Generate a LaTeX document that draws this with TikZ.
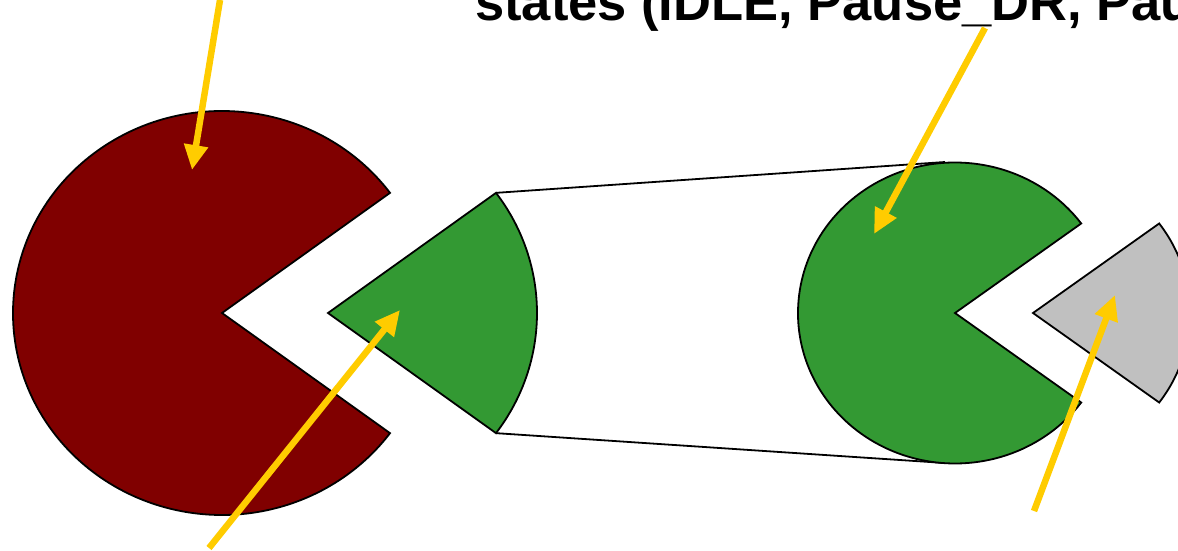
\documentclass[tikz,border=0pt]{standalone}
\usepackage{fontspec}
\setmainfont{Liberation Sans}
\usepackage{tikz}
\usetikzlibrary{positioning,arrows.meta,calc}
\definecolor{darkred}{RGB}{128,0,0}
\definecolor{pacgreen}{RGB}{51,153,51}
\definecolor{wedgegray}{RGB}{192,192,192}
\definecolor{markyellow}{RGB}{255,204,0}

\begin{document}
\begin{tikzpicture}[x=1pt, y=-1pt]
    \tikzstyle{pie} = [draw=black, line width=1.8pt, line join=miter]
    \tikzstyle{zoomline} = [draw=black, line width=1.8pt]
    \tikzstyle{pointer} = [draw=markyellow, line width=6.5pt, -{Triangle[length=25pt, width=23pt]}]

    \useasboundingbox (0,0) rectangle (1178,551);
    \clip (0,0) rectangle (1178,551);

    % Title line
    \node [anchor=base west, inner sep=0pt, font=\fontsize{52.5}{60}\selectfont\bfseries] (title) at (475,21) {states (IDLE, Pause\_DR, Pau};

    % Left pie and its cut-out wedge
    \coordinate (bigc) at (222,313);
    \coordinate (cutc) at (328,313);
    \path [pie, fill=darkred] (bigc) -- +(-36.5:209 and 202) arc [start angle=-36.5, end angle=-323.5, x radius=209, y radius=202] -- cycle;
    \path [pie, fill=pacgreen] (cutc) -- +(-36.5:209 and 202) coordinate (cuttop) arc [start angle=-36.5, end angle=36.5, x radius=209, y radius=202] coordinate (cutbot) -- cycle;

    % Right pie and wedge
    \coordinate (smallc) at (955,313);
    \coordinate (grayc) at (1033,313);
    \coordinate (smalltop) at (945,162);
    \coordinate (smallbot) at (945,463);
    \draw [zoomline] (cuttop) -- (smalltop);
    \draw [zoomline] (cutbot) -- (smallbot);
    \path [pie, fill=pacgreen] (smallc) -- +(-36.5:157 and 150.5) arc [start angle=-36.5, end angle=-323.5, x radius=157, y radius=150.5] -- cycle;
    \path [pie, fill=wedgegray] (grayc) -- +(-36.5:157 and 150.5) arc [start angle=-36.5, end angle=36.5, x radius=157, y radius=150.5] -- cycle;

    % Pointers
    \coordinate (p1s) at (220,0);
    \coordinate (p1e) at (192,170);
    \coordinate (p2s) at (209,548);
    \coordinate (p2e) at (400,310);
    \coordinate (p3s) at (985,28);
    \coordinate (p3e) at (874,234);
    \coordinate (p4s) at (1034,511);
    \coordinate (p4e) at (1115,295);
    \draw [pointer] (p1s) -- (p1e);
    \draw [pointer] (p2s) -- (p2e);
    \draw [pointer] (p3s) -- (p3e);
    \draw [pointer] (p4s) -- (p4e);
\end{tikzpicture}
\end{document}
